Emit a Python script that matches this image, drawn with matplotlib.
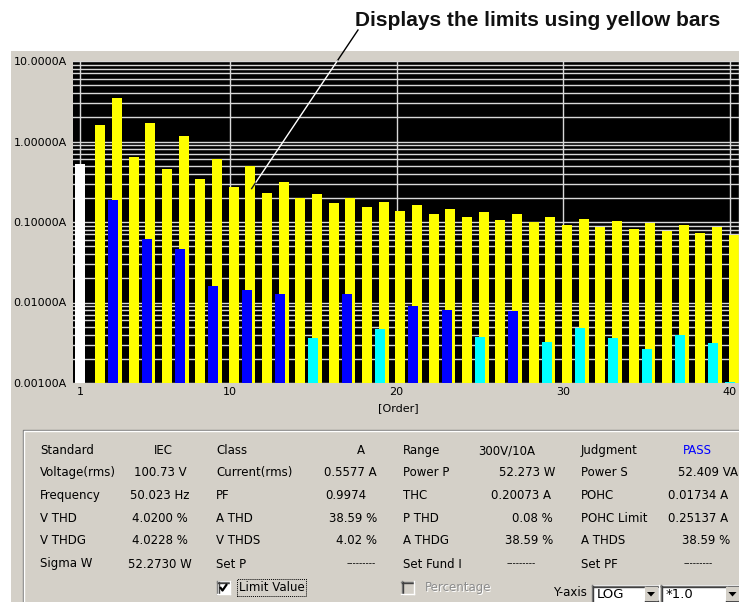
import numpy as np
import matplotlib
matplotlib.use("Agg")
import matplotlib.pyplot as plt
from matplotlib.lines import Line2D
from matplotlib.patches import Rectangle, Polygon
from matplotlib.ticker import LogLocator, NullFormatter

# ---------------- data ----------------
orders = np.arange(1, 41)

# harmonic current limits (A), order 2..40 (no limit for the fundamental)
limit_values = [np.nan, 1.62, 3.45, 0.645, 1.71, 0.45, 1.155, 0.345, 0.60, 0.276,
                0.495, 0.23, 0.315, 0.197, 0.225, 0.1725, 0.199, 0.153, 0.178, 0.138,
                0.161, 0.125, 0.147, 0.115, 0.135, 0.106, 0.125, 0.0986, 0.116, 0.092,
                0.109, 0.0863, 0.102, 0.081, 0.0964, 0.0767, 0.0912, 0.0726, 0.0865, 0.069]

# measured harmonic currents (A); NaN = below the display floor
measured_values = [0.52, np.nan, 0.186, np.nan, 0.0607, np.nan, 0.0464, np.nan, 0.0161, np.nan,
                   0.0144, np.nan, 0.0128, np.nan, 0.00358, np.nan, 0.0128, np.nan, 0.00464, np.nan,
                   0.00894, np.nan, 0.00798, np.nan, 0.00369, np.nan, 0.00776, np.nan, 0.0032, np.nan,
                   0.00481, np.nan, 0.00358, np.nan, 0.00267, np.nan, 0.00398, np.nan, 0.0031, 0.00103]

measured_kind = ["fund", "low", "high", "low", "high", "low", "high", "low", "high", "low",
                 "high", "low", "high", "low", "low", "low", "high", "low", "low", "low",
                 "high", "low", "high", "low", "low", "low", "high", "low", "low", "low",
                 "low", "low", "low", "low", "low", "low", "low", "low", "low", "low"]

ytick_values = [0.001, 0.01, 0.1, 1.0, 10.0]
ytick_labels = ["0.00100A", "0.01000A", "0.10000A", "1.00000A", "10.0000A"]
xtick_values = [1, 10, 20, 30, 40]

panel_labels = [
    ["Standard", "Voltage(rms)", "Frequency", "V THD", "V THDG", "Sigma W"],
    ["Class", "Current(rms)", "PF", "A THD", "V THDS", "Set P"],
    ["Range", "Power P", "THC", "P THD", "A THDG", "Set Fund I"],
    ["Judgment", "Power S", "POHC", "POHC Limit", "A THDS", "Set PF"],
]
panel_values = [
    ["IEC", "100.73 V", "50.023 Hz", "4.0200 %", "4.0228 %", "52.2730 W"],
    ["A", "0.5577 A", "0.9974", "38.59 %", "4.02 %", "---------"],
    ["300V/10A", "52.273 W", "0.20073 A", "0.08 %", "38.59 %", "---------"],
    ["PASS", "52.409 VA", "0.01734 A", "0.25137 A", "38.59 %", "---------"],
]

# ---------------- styling ----------------
W, H = 739, 602
GRAY = "#d4d0c8"
KIND_COLORS = {"fund": "#ffffff", "high": "#0000ff", "low": "#00ffff"}
LIMIT_OFFSET = 0.22
BAR_W = 0.6
FLOOR = 0.001

plt.rcParams["font.family"] = ["DejaVu Sans"]

fig = plt.figure(figsize=(W / 100, H / 100), dpi=100)
fig.patch.set_facecolor("white")


def fx(x):
    return x / W


def fy(y):
    return 1 - y / H


# window background
fig.add_artist(Rectangle((fx(11), 0), fx(W) - fx(11), fy(51), transform=fig.transFigure,
                         facecolor=GRAY, edgecolor="none", zorder=-10))

# ---------------- harmonic chart ----------------
ax_left, ax_right, ax_top, ax_bottom = 72.7, 739.0, 61.0, 383.0
ax = fig.add_axes([fx(ax_left), fy(ax_bottom), fx(ax_right - ax_left), (ax_bottom - ax_top) / H])
ax.set_facecolor("black")
ax.set_yscale("log")
ax.set_ylim(FLOOR, 10)
px_per_order = 150 / 9
ax.set_xlim(1 + (ax_left - 80) / px_per_order, 1 + (ax_right - 80) / px_per_order)

lim = np.array(limit_values, dtype=float)
meas = np.array(measured_values, dtype=float)

ax.bar(orders + LIMIT_OFFSET, lim - FLOOR, bottom=FLOOR, width=BAR_W,
       color="#ffff00", linewidth=0, zorder=2)
ax.bar(orders, meas - FLOOR, bottom=FLOOR, width=BAR_W,
       color=[KIND_COLORS[k] for k in measured_kind], linewidth=0, zorder=3)

ax.set_yticks(ytick_values)
ax.set_yticklabels(ytick_labels)
ax.yaxis.set_minor_locator(LogLocator(base=10, subs=np.arange(2, 10)))
ax.yaxis.set_minor_formatter(NullFormatter())
ax.set_xticks(xtick_values)
ax.set_xticklabels([str(v) for v in xtick_values])
ax.tick_params(which="both", length=0, labelsize=8, colors="black")
ax.tick_params(axis="y", pad=4.3)
ax.tick_params(axis="x", pad=3.0)
ax.set_axisbelow(True)
ax.grid(True, which="both", axis="y", color="#d8d8d8", linewidth=1.0)
ax.grid(True, which="major", axis="x", color="#d8d8d8", linewidth=1.0)
for side in ("left", "top", "bottom"):
    ax.spines[side].set_visible(False)
ax.spines["right"].set_color("#d0d0d0")
ax.spines["right"].set_linewidth(1.0)

ax.set_xlabel("[Order]", fontsize=8)
ax.xaxis.set_label_coords((398.7 - ax_left) / (ax_right - ax_left),
                          -(408 - ax_bottom) / (ax_bottom - ax_top))
ax.xaxis.label.set_verticalalignment("center")

# ---------------- callout ----------------
fig.text(fx(720), fy(26), "Displays the limits using yellow bars", ha="right", va="baseline",
         fontsize=15, fontweight="bold", family=["Liberation Sans", "DejaVu Sans"], color="#111111")

to_fig = fig.transFigure.inverted()
p0 = np.array([358.0, H - 30.0])
p1 = ax.transData.transform((11.30, 0.26))
top_y = ax.bbox.y1
bar_right = ax.transData.transform((11 + LIMIT_OFFSET + BAR_W / 2, 1.0))[0]
q_top = p0 + (p0[1] - top_y) / (p0[1] - p1[1]) * (p1 - p0)
q_bar = p0 + (p0[0] - bar_right) / (p0[0] - p1[0]) * (p1 - p0)
for a, b, c in ((p0, q_top, "black"), (q_top, q_bar, "white"), (q_bar, p1, "#202020")):
    pts = to_fig.transform(np.array([a, b]))
    fig.add_artist(Line2D(pts[:, 0], pts[:, 1], color=c, linewidth=1.0,
                          transform=fig.transFigure, zorder=5))

# ---------------- status panel ----------------
def hline(x0, x1, y, color, lw=1.0):
    fig.add_artist(Line2D([fx(x0), fx(x1)], [fy(y), fy(y)], color=color, linewidth=lw,
                          transform=fig.transFigure, zorder=1))


def vline(x, y0, y1, color, lw=1.0):
    fig.add_artist(Line2D([fx(x), fx(x)], [fy(y0), fy(y1)], color=color, linewidth=lw,
                          transform=fig.transFigure, zorder=1))


def box(x0, y0, x1, y1, face, zorder=1):
    fig.add_artist(Rectangle((fx(x0), fy(y1)), fx(x1 - x0), (y1 - y0) / H,
                             transform=fig.transFigure, facecolor=face,
                             edgecolor="none", zorder=zorder))


def sunken(x0, y0, x1, y1, face):
    box(x0, y0, x1, y1, face)
    hline(x0, x1, y0 + 0.5, "#808080")
    vline(x0 + 0.5, y0, y1, "#808080")
    hline(x0 + 1, x1 - 1, y0 + 1.5, "#404040")
    vline(x0 + 1.5, y0 + 1, y1 - 1, "#404040")
    hline(x0, x1, y1 - 0.5, "white")
    vline(x1 - 0.5, y0, y1, "white")


def raised(x0, y0, x1, y1):
    box(x0, y0, x1, y1, GRAY, zorder=2)
    hline(x0, x1, y0 + 0.5, "white")
    vline(x0 + 0.5, y0, y1, "white")
    hline(x0, x1, y1 - 0.5, "#404040")
    vline(x1 - 0.5, y0, y1, "#404040")
    hline(x0 + 1, x1 - 1, y1 - 1.5, "#808080")
    vline(x1 - 1.5, y0 + 1, y1 - 1, "#808080")


# etched group frame
fig.add_artist(Line2D([fx(23), fx(23), fx(W)], [0, fy(429.5), fy(429.5)], color="#808080",
                      linewidth=1.0, transform=fig.transFigure, zorder=1))
fig.add_artist(Line2D([fx(24), fx(24), fx(W)], [0, fy(430.5), fy(430.5)], color="white",
                      linewidth=1.0, transform=fig.transFigure, zorder=1))

row_y = [450.7, 472.3, 495.3, 518.0, 541.0, 564.0]
label_x = [40, 216, 403, 581]
value_pos = [
    [(163, "center"), (160, "center"), (160, "center"), (160, "center"), (160, "center"), (160, "center")],
    [(361, "center"), (377, "right"), (325, "left"), (377, "right"), (377, "right"), (361, "center")],
    [(507, "center"), (555, "right"), (551, "right"), (553, "right"), (553, "right"), (521, "center")],
    [(697, "center"), (738, "right"), (728, "right"), (728, "right"), (730, "right"), (698, "center")],
]
FS = 8.5
for col in range(4):
    for r, y in enumerate(row_y):
        fig.text(fx(label_x[col]), fy(y), panel_labels[col][r], ha="left", va="center",
                 fontsize=FS, color="black")
        x, ha = value_pos[col][r]
        text = panel_values[col][r]
        color = "#0000ff" if text == "PASS" else "black"
        size = 6.5 if set(text) == {"-"} else FS
        fig.text(fx(x), fy(y), text, ha=ha, va="center", fontsize=size, color=color)

# "Limit Value" check box (checked)
sunken(217, 581, 230, 594, "white")
fig.add_artist(Line2D([fx(220), fx(222.5), fx(227)], [fy(587), fy(590.5), fy(584)], color="black",
                      linewidth=1.6, transform=fig.transFigure, zorder=3, solid_capstyle="butt"))
fig.text(fx(239), fy(587.5), "Limit Value", ha="left", va="center", fontsize=FS, color="black")
fig.add_artist(Rectangle((fx(237), fy(596)), fx(306 - 237), 17 / H, transform=fig.transFigure,
                         facecolor="none", edgecolor="black", linestyle=(0, (1, 1)),
                         linewidth=0.7, zorder=3))

# "Percentage" check box (disabled)
sunken(401, 581, 414, 594, GRAY)
fig.text(fx(426), fy(588.5), "Percentage", ha="left", va="center", fontsize=FS, color="white")
fig.text(fx(425), fy(587.5), "Percentage", ha="left", va="center", fontsize=FS, color="#8c8c8c")

# Y-axis selectors
fig.text(fx(553), fy(592.5), "Y-axis", ha="left", va="center", fontsize=FS, color="black")


def combo(x0, x1, text, text_x):
    sunken(x0, 585, x1, 604, "white")
    fig.text(fx(text_x), fy(594.5), text, ha="left", va="center", fontsize=FS + 1, color="black",
             zorder=3)
    bx0, bx1 = x1 - 15, x1 - 2
    raised(bx0, 587, bx1, 601)
    cx, cy = (bx0 + bx1) / 2, 594
    fig.add_artist(Polygon([[fx(cx - 4), fy(cy - 2)], [fx(cx + 4), fy(cy - 2)], [fx(cx), fy(cy + 2.5)]],
                           closed=True, transform=fig.transFigure, facecolor="black",
                           edgecolor="none", zorder=4))


combo(591.7, 659.5, "LOG", 597)
combo(660.7, 741.0, "*1.0", 666)

fig.savefig("out.png", dpi=100, facecolor=fig.get_facecolor())
